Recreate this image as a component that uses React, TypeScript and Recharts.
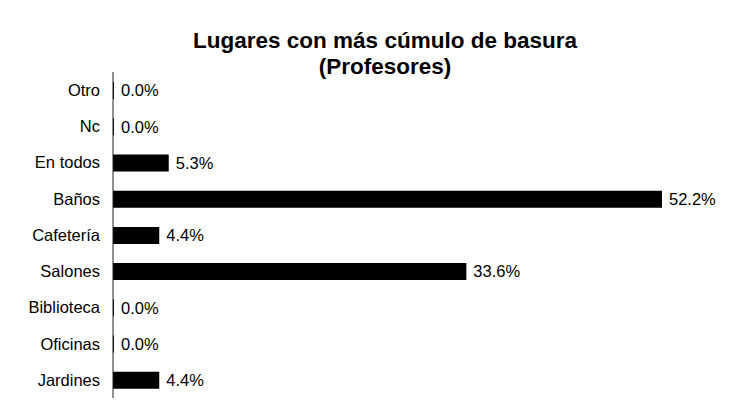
import { BarChart, Bar, XAxis, YAxis, LabelList } from "recharts";

const categories = ["Otro", "Nc", "En todos", "Baños", "Cafetería", "Salones", "Biblioteca", "Oficinas", "Jardines"];
const percentages = [0.0, 0.0, 5.3, 52.2, 4.4, 33.6, 0.0, 0.0, 4.4];

const data = categories.map((name, i) => ({ name, value: percentages[i] }));

const font = "'Liberation Sans', Arial, sans-serif";

const App = () => {
  return (
    <div style={{ position: "absolute", left: 0, top: 0, width: 751, height: 409, background: "#fff", fontFamily: font }}>
      <div
        style={{
          position: "absolute",
          left: 135,
          top: 28,
          width: 500,
          textAlign: "center",
          fontSize: 22.5,
          fontWeight: "bold",
          lineHeight: "26px",
          color: "#000",
        }}
      >
        Lugares con más cúmulo de basura
        <br />
        (Profesores)
      </div>
      <BarChart
        width={751}
        height={409}
        data={data}
        layout="vertical"
        margin={{ top: 72, right: 7, bottom: 11, left: 0 }}
      >
        <XAxis type="number" domain={[0, 60]} hide />
        <YAxis
          type="category"
          dataKey="name"
          width={113}
          tickLine={false}
          tickSize={0}
          tickMargin={13}
          axisLine={{ stroke: "#222", strokeWidth: 1 }}
          tick={{ fill: "#000", fontSize: 16.5, fontFamily: font }}
          interval={0}
        />
        <Bar dataKey="value" fill="#000" barSize={17} minPointSize={1} isAnimationActive={false}>
          <LabelList
            dataKey="value"
            position="right"
            offset={7}
            formatter={(v: number) => `${Number(v).toFixed(1)}%`}
            style={{ fill: "#000", fontSize: 16.5, fontFamily: font }}
          />
        </Bar>
      </BarChart>
    </div>
  );
};

export default App;
